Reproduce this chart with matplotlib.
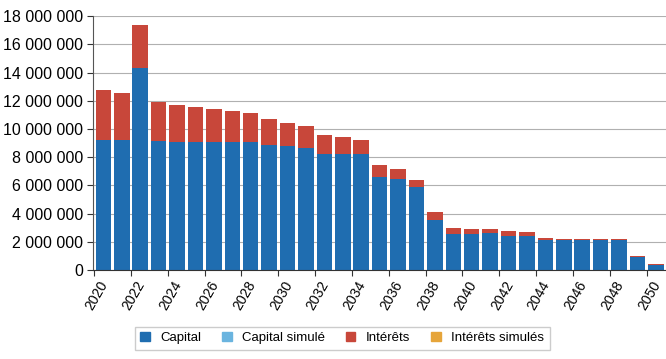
import numpy as np
import matplotlib
matplotlib.use("Agg")
import matplotlib.pyplot as plt
from matplotlib.patches import Patch
from matplotlib.ticker import FuncFormatter

years = list(range(2020, 2051))
# capital and total (capital + interets), in millions
capital = [9.2, 9.2, 14.3, 9.15, 9.1, 9.1, 9.1, 9.1, 9.1, 8.85, 8.8, 8.65, 8.2,
           8.2, 8.2, 6.6, 6.45, 5.85, 3.55, 2.55, 2.55, 2.6, 2.4, 2.4, 2.1,
           2.1, 2.15, 2.15, 2.15, 0.95, 0.35]
total = [12.76, 12.55, 17.4, 11.9, 11.7, 11.55, 11.4, 11.25, 11.1, 10.7, 10.45,
         10.2, 9.6, 9.4, 9.2, 7.45, 7.15, 6.4, 4.1, 2.95, 2.9, 2.9, 2.75, 2.7,
         2.3, 2.2, 2.2, 2.2, 2.2, 1.0, 0.4]
interets = [t - c for t, c in zip(total, capital)]

legend_labels = ["Capital", "Capital simulé", "Intérêts", "Intérêts simulés"]
c_cap = "#1f6db0"
c_cap_sim = "#6ab4df"
c_int = "#c8473a"
c_int_sim = "#e6a53a"

plt.rcParams['font.family'] = ['Liberation Sans', 'DejaVu Sans']

fig = plt.figure(figsize=(6.66, 3.59), dpi=100)
ax = fig.add_axes([0.14, 0.248, 0.86, 0.707])

cap = np.array(capital) * 1e6
intr = np.array(interets) * 1e6
ax.bar(years, cap, width=0.84, color=c_cap, zorder=2)
ax.bar(years, intr, bottom=cap, width=0.84, color=c_int, zorder=2)

ax.set_xlim(2019.45, 2050.55)
ax.set_ylim(0, 18e6)
ax.set_yticks(np.arange(0, 18e6 + 1, 2e6))
ax.yaxis.set_major_formatter(FuncFormatter(lambda v, p: f"{int(v):,}".replace(",", " ")))
ax.grid(axis='y', color='#b0b0b0', linewidth=0.8, zorder=0)

# ticks on bar edges, labels on even-year bars
ax.set_xticks([y - 0.5 for y in years if y % 2 == 0])
ax.set_xticklabels([])
ax.set_xticks([y - 0.25 for y in years if y % 2 == 0], minor=True)
ax.set_xticklabels([str(y) for y in years if y % 2 == 0], minor=True, rotation=60,
                   ha='right', va='top', rotation_mode='anchor', fontsize=10)
ax.tick_params(axis='x', which='minor', length=0, pad=6)
ax.tick_params(axis='y', labelsize=11.5, length=4, color='#333333')
ax.tick_params(axis='x', which='major', length=4, color='#333333')
for s in ['top', 'right']:
    ax.spines[s].set_visible(False)
ax.spines['left'].set_color('#555555')
ax.spines['bottom'].set_color('#333333')

handles = [Patch(color=c) for c in [c_cap, c_cap_sim, c_int, c_int_sim]]
fig.legend(handles, legend_labels, loc='center', bbox_to_anchor=(0.514, 0.058),
           ncol=4, fontsize=9.5, frameon=True, fancybox=False, edgecolor='#c0c0c0',
           handlelength=0.7, handleheight=0.7, columnspacing=1.6, handletextpad=0.8)

fig.savefig("out.png", dpi=100)
